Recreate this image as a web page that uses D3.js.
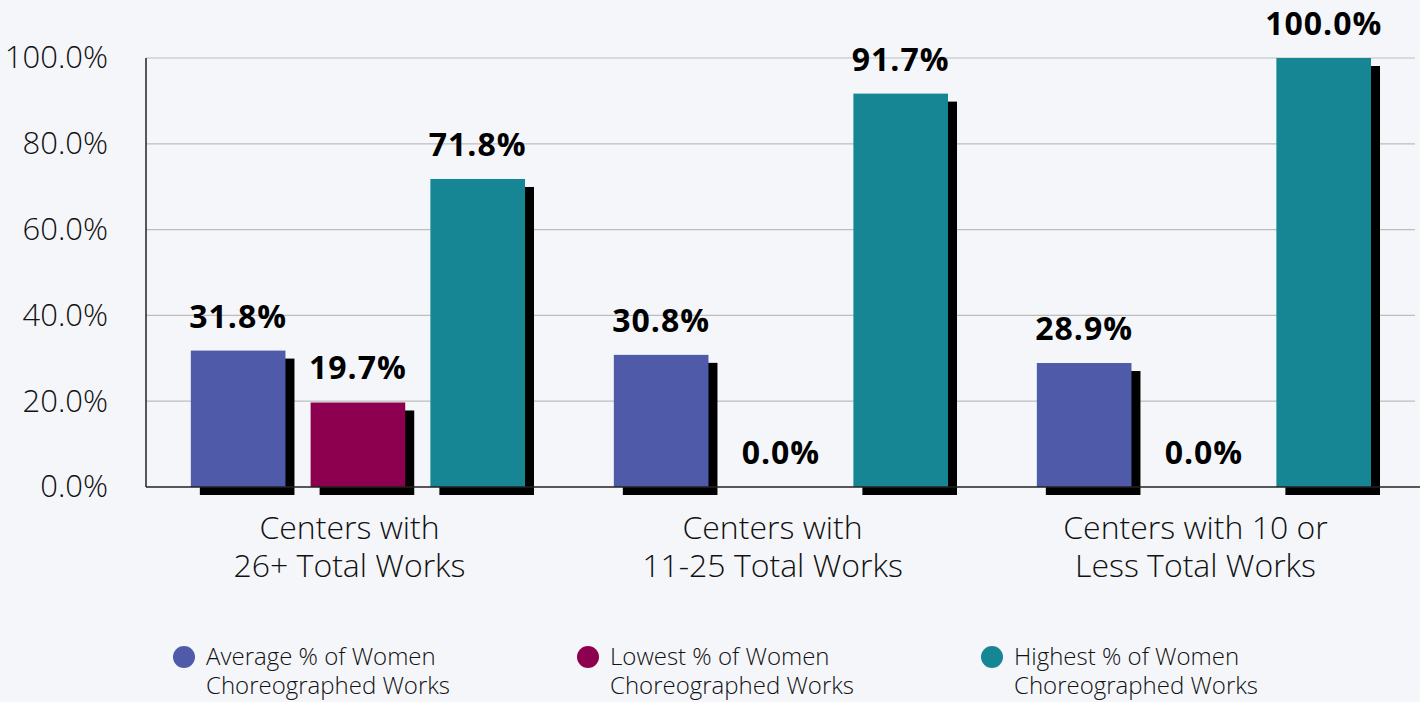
<!DOCTYPE html>
<html>
<head>
<meta charset="utf-8">
<script src="https://cdn.jsdelivr.net/npm/d3@7"></script>
<style>
  body { margin: 0; background: #f5f6fa; }
  svg { display: block; font-family: "Open Sans", "Noto Sans", sans-serif; }
</style>
</head>
<body>
<div id="chart-area"></div>
<script>
const categories = [
  ["Centers with", "26+ Total Works"],
  ["Centers with", "11-25 Total Works"],
  ["Centers with 10 or", "Less Total Works"]
]
const seriesNames = [
  ["Average % of Women", "Choreographed Works"],
  ["Lowest % of Women", "Choreographed Works"],
  ["Highest % of Women", "Choreographed Works"]
]
const averageValues = [31.8, 30.8, 28.9]
const lowestValues = [19.7, 0.0, 0.0]
const highestValues = [71.8, 91.7, 100.0]
const yTicks = [0, 20, 40, 60, 80, 100]
const colors = ["#4f5ba9", "#8d0050", "#168694"]

const WIDTH = 1420
const HEIGHT = 702
const MARGIN = { LEFT: 146, RIGHT: 5, TOP: 58, BOTTOM: 215 }
const innerW = WIDTH - MARGIN.LEFT - MARGIN.RIGHT
const innerH = HEIGHT - MARGIN.TOP - MARGIN.BOTTOM
const SHADOW = 8

const svg = d3.select("#chart-area").append("svg")
  .attr("width", WIDTH)
  .attr("height", HEIGHT)

const g = svg.append("g")
  .attr("transform", `translate(${MARGIN.LEFT}, ${MARGIN.TOP})`)

const series = [averageValues, lowestValues, highestValues]
const data = categories.map((c, i) => ({
  cat: i,
  values: series.map((s, j) => ({ series: j, value: s[i] }))
}))

const x0 = d3.scaleBand()
  .domain(d3.range(categories.length))
  .range([0, innerW])
  .padding(0)

const x1 = d3.scaleBand()
  .domain(d3.range(series.length))
  .range([x0.bandwidth() * 0.106, x0.bandwidth() * 0.896])
  .paddingInner(0.21)
  .paddingOuter(0)

const y = d3.scaleLinear()
  .domain([0, 100])
  .range([innerH, 0])

// gridlines
g.append("g")
  .selectAll("line")
  .data(yTicks.filter(d => d > 0))
  .enter().append("line")
  .attr("x1", 0)
  .attr("x2", innerW)
  .attr("y1", d => y(d))
  .attr("y2", d => y(d))
  .attr("stroke", "#bdbdbd")
  .attr("stroke-width", 1.2)

// y axis
const yAxisCall = d3.axisLeft(y)
  .tickValues(yTicks)
  .tickSize(0)
  .tickPadding(38)
  .tickFormat(d => d.toFixed(1) + "%")
const yAxis = g.append("g").call(yAxisCall)
yAxis.select(".domain").remove()
yAxis.selectAll("text")
  .attr("font-size", "31px")
  .attr("font-family", "'Open Sans', sans-serif")
  .attr("font-weight", 300)
  .attr("fill", "#111")

const groups = g.selectAll(".group")
  .data(data)
  .enter().append("g")
  .attr("class", "group")
  .attr("transform", d => `translate(${x0(d.cat)}, 0)`)

// shadows
groups.selectAll(".shadow")
  .data(d => d.values.filter(v => v.value > 0))
  .enter().append("rect")
  .attr("class", "shadow")
  .attr("x", d => x1(d.series) + SHADOW + 1)
  .attr("y", d => y(d.value) + SHADOW)
  .attr("width", x1.bandwidth())
  .attr("height", d => innerH - y(d.value))
  .attr("fill", "#000")

// bars
groups.selectAll(".bar")
  .data(d => d.values)
  .enter().append("rect")
  .attr("class", "bar")
  .attr("x", d => x1(d.series))
  .attr("y", d => y(d.value))
  .attr("width", x1.bandwidth())
  .attr("height", d => innerH - y(d.value))
  .attr("fill", d => colors[d.series])

// value labels
groups.selectAll(".val")
  .data(d => d.values)
  .enter().append("text")
  .attr("class", "val")
  .attr("x", d => x1(d.series) + x1.bandwidth() / 2)
  .attr("y", d => y(d.value) - 23)
  .attr("text-anchor", "middle")
  .attr("font-size", "32px")
  .attr("font-weight", "bold")
  .attr("letter-spacing", "1px")
  .attr("fill", "#000")
  .text(d => d.value.toFixed(1) + "%")

// axis lines
g.append("line")
  .attr("x1", 0).attr("x2", 0)
  .attr("y1", 0).attr("y2", innerH)
  .attr("stroke", "#222").attr("stroke-width", 1.5)
g.append("line")
  .attr("x1", 0).attr("x2", innerW + MARGIN.RIGHT)
  .attr("y1", innerH).attr("y2", innerH)
  .attr("stroke", "#222").attr("stroke-width", 1.5)

// category labels
groups.append("text")
  .attr("x", x0.bandwidth() / 2 - 8)
  .attr("y", innerH + 52)
  .attr("text-anchor", "middle")
  .attr("font-size", "32px")
  .attr("font-weight", 300)
  .attr("fill", "#111")
  .selectAll("tspan")
  .data(d => categories[d.cat])
  .enter().append("tspan")
  .attr("x", x0.bandwidth() / 2 - 8)
  .attr("dy", (d, i) => i === 0 ? 0 : 38)
  .text(d => d)

// legend
const legend = svg.append("g")
  .selectAll(".legend")
  .data(seriesNames)
  .enter().append("g")
  .attr("class", "legend")
  .attr("transform", (d, i) => `translate(${184 + i * 404}, ${657})`)

legend.append("circle")
  .attr("r", 11)
  .attr("fill", (d, i) => colors[i])

legend.append("text")
  .attr("x", 22)
  .attr("y", 8)
  .attr("font-size", "24px")
  .attr("font-weight", 300)
  .attr("fill", "#111")
  .selectAll("tspan")
  .data(d => d)
  .enter().append("tspan")
  .attr("x", 22)
  .attr("dy", (d, i) => i === 0 ? 0 : 29)
  .text(d => d)
</script>
</body>
</html>
